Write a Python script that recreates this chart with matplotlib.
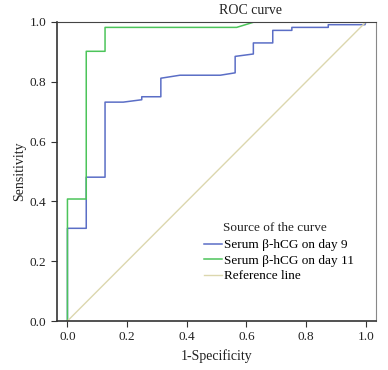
import matplotlib.pyplot as plt

plt.rcParams['font.family'] = ['Liberation Serif', 'DejaVu Serif']

# ROC curve points
fpr_day9 = [0.0, 0.0, 0.063, 0.063, 0.126, 0.126, 0.187, 0.249, 0.249, 0.313, 0.313,
            0.377, 0.512, 0.562, 0.562, 0.623, 0.623, 0.688, 0.688, 0.752, 0.752,
            0.874, 0.874, 0.997, 1.0]
tpr_day9 = [0.0, 0.31, 0.31, 0.481, 0.481, 0.732, 0.732, 0.74, 0.75, 0.75, 0.812,
            0.822, 0.822, 0.83, 0.885, 0.893, 0.93, 0.93, 0.972, 0.972, 0.982,
            0.982, 0.991, 0.991, 1.0]

fpr_day11 = [0.0, 0.0, 0.063, 0.063, 0.126, 0.126, 0.567, 0.626, 1.0]
tpr_day11 = [0.0, 0.408, 0.408, 0.902, 0.902, 0.982, 0.982, 1.0, 1.0]

ref_line = [0.0, 1.0]

labels = ['Serum β-hCG on day 9', 'Serum β-hCG on day 11', 'Reference line']
colors = ['#5b6ec6', '#4cc45a', '#dcd7ae']

W, H = 388, 370
fig = plt.figure(figsize=(W/100, H/100), dpi=100)
ax = fig.add_axes([57/W, 1 - 321/H, (376 - 57)/W, (321 - 22)/H])

ax.plot(fpr_day9, tpr_day9, color=colors[0], lw=1.1, label=labels[0])
ax.plot(fpr_day11, tpr_day11, color=colors[1], lw=1.1, label=labels[1])
ax.plot(ref_line, ref_line, color=colors[2], lw=1.0, label=labels[2])

ax.set_xlim(-0.035, 1.034)
ax.set_ylim(0, 1.0)
ax.set_xticks([0.0, 0.2, 0.4, 0.6, 0.8, 1.0])
ax.set_yticks([0.0, 0.2, 0.4, 0.6, 0.8, 1.0])
ax.set_xticklabels(['0.0', '0.2', '0.4', '0.6', '0.8', '1.0'])
ax.set_yticklabels(['0.0', '0.2', '0.4', '0.6', '0.8', '1.0'])
ax.tick_params(direction='out', length=4, width=0.8, labelsize=9.5, colors='#333333',
               labelcolor='#222222')
for s in ['left', 'bottom']:
    ax.spines[s].set_color('#333333')
    ax.spines[s].set_linewidth(1.2)
ax.spines['top'].set_color('#444444')
ax.spines['right'].set_color('#888888')

ax.set_xlabel('1-Specificity', fontsize=10, color='#222222', labelpad=4)
ax.set_ylabel('Sensitivity', fontsize=10, color='#222222', labelpad=3)
fig.text(250/W, 1 - 11/H, 'ROC curve', ha='center', va='center', fontsize=10, color='#222222')

# legend title placed by hand so it lines up with the entry text
fig.text(223/W, 1 - 227.5/H, 'Source of the curve', ha='left', va='center',
         fontsize=9.5, color='#222222')
ax.legend(loc='upper left', bbox_to_anchor=(204/W, 1 - 239/H), bbox_transform=fig.transFigure,
          frameon=False, fontsize=9.5, handlelength=1.35, handletextpad=0.15,
          labelspacing=0.25, borderpad=0, borderaxespad=0)

plt.savefig('out.png', dpi=100)
